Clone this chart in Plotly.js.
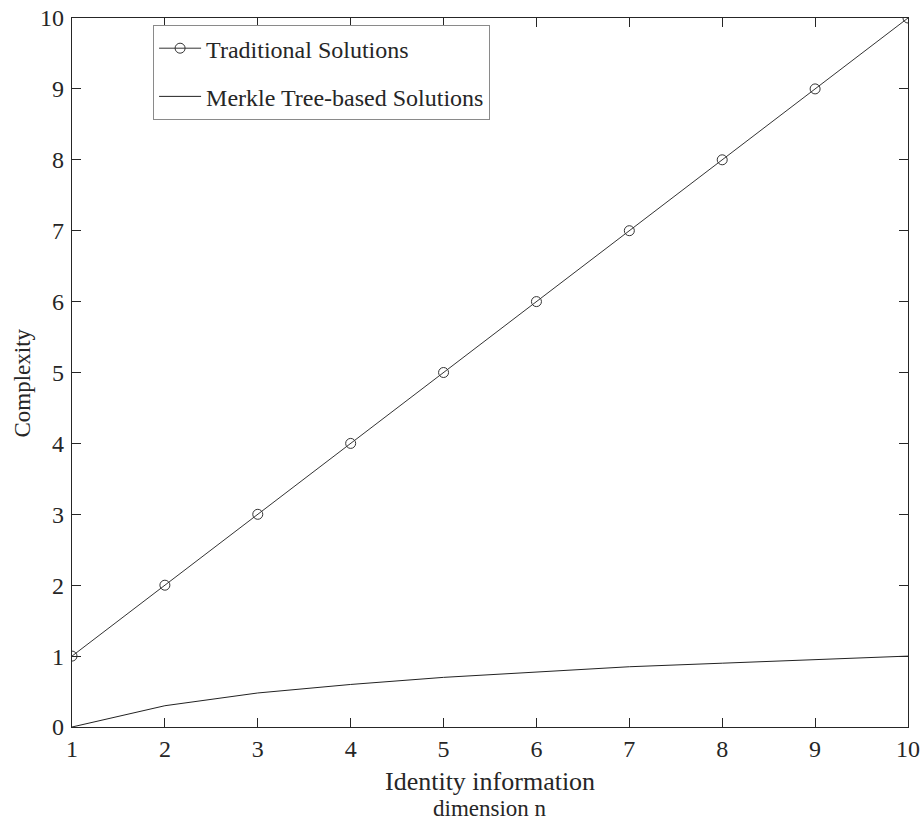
<!DOCTYPE html>
<html>
<head>
<meta charset="utf-8">
<script src="https://cdn.plot.ly/plotly-3.0.1.min.js"></script>
<style>html,body{margin:0;padding:0;background:#fff;}#chart{width:921px;height:820px;}</style>
</head>
<body>
<div id="chart"></div>
<script>
const dimensionN = [1, 2, 3, 4, 5, 6, 7, 8, 9, 10];
const traditional = [1, 2, 3, 4, 5, 6, 7, 8, 9, 10];
const merkle = [0, 0.30, 0.48, 0.60, 0.70, 0.78, 0.85, 0.90, 0.95, 1.0];
const seriesNames = ["Traditional Solutions", "Merkle Tree-based Solutions"];
const xTitleLines = ["Identity information", "dimension n"];
const yTitle = "Complexity";

const font = "Liberation Serif";
const ink = "#262626";

const traces = [
  {
    x: dimensionN, y: traditional, name: seriesNames[0], legendgroup: "a",
    mode: "lines+markers", type: "scatter",
    line: {color: "#333", width: 1},
    marker: {symbol: "circle-open", size: 10, color: "#333", line: {width: 1, color: "#333"}}
  },
  {
    x: dimensionN, y: merkle, name: seriesNames[1], legendgroup: "b",
    mode: "lines", type: "scatter",
    line: {color: "#222", width: 1}
  }
];

const axisCommon = {
  showline: true, linecolor: ink, linewidth: 1.2, mirror: "ticks",
  ticks: "inside", ticklen: 9, tickwidth: 1, tickcolor: ink,
  showgrid: false, zeroline: false, dtick: 1,
  tickfont: {family: font, size: 24, color: ink}
};

const layout = {
  width: 921, height: 820,
  margin: {l: 72, r: 13, t: 18, b: 93},
  paper_bgcolor: "#fff", plot_bgcolor: "#fff",
  font: {family: font, color: ink},
  showlegend: true,
  legend: {
    x: 0.097, y: 0.99, xanchor: "left", yanchor: "top",
    bgcolor: "#fff", bordercolor: "#8a8a8a", borderwidth: 1,
    font: {family: font, size: 24, color: ink},
    traceorder: "grouped", tracegroupgap: 14, itemwidth: 42
  },
  xaxis: Object.assign({}, axisCommon, {
    range: [1, 10], ticklabelstandoff: 0
  }),
  yaxis: Object.assign({}, axisCommon, {
    range: [0, 10], ticklabelstandoff: 2
  }),
  annotations: [
    {text: xTitleLines[0], xref: "paper", yref: "paper", x: 0.5, y: 0, yshift: -54,
     xanchor: "center", yanchor: "middle", showarrow: false, font: {family: font, size: 26, color: ink}},
    {text: xTitleLines[1], xref: "paper", yref: "paper", x: 0.5, y: 0, yshift: -81,
     xanchor: "center", yanchor: "middle", showarrow: false, font: {family: font, size: 23, color: ink}},
    {text: yTitle, xref: "paper", yref: "paper", x: 0, y: 0.5, xshift: -50, yshift: -11,
     textangle: -90, xanchor: "center", yanchor: "middle", showarrow: false,
     font: {family: font, size: 23, color: ink}}
  ]
};

Plotly.newPlot("chart", traces, layout, {displayModeBar: false, staticPlot: true});
</script>
</body>
</html>
